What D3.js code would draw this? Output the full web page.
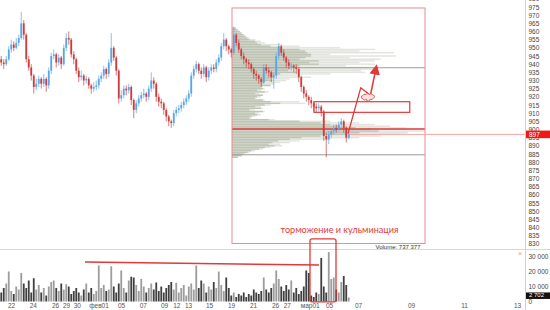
<!DOCTYPE html>
<html>
<head>
<meta charset="utf-8">
<script src="https://cdn.jsdelivr.net/npm/d3@7"></script>
<style>
  body { margin: 0; background: #fff; }
  svg { display: block; font-family: "Liberation Sans", Arial, sans-serif; }
</style>
</head>
<body>
<svg width="550" height="310"></svg>
<script>
// ---- dados ----
const firstOpen = 943;
const closes = [941,940,943,949,952,950,953,956,965,958, 943,938,933,926,928,931,928,931,927,936,
  945,946,941,944,940,950,956,955,946,943, 936,932,933,930,931,927,925,926,927,931,
  933,937,934,941,950,944,936,919,921,925, 924,926,918,912,916,919,921,922,920,925,
  930,928,920,917,916,912,908,905,904,910, 912,913,915,917,919,922,933,937,940,936,
  934,938,932,936,938,937,941,944,951,955, 951,949,947,958,953,949,945,943,941,940,
  937,934,933,931,929,938,936,935,932,933, 945,951,947,944,941,939,939,938,937,932,
  926,922,920,918,916,914,913,914,911,896, 894,897,899,901,900,903,905,901,895,897];
const highs = [945,943,945,951,955,954,956,958,972,967, 959,945,940,934,931,933,932,934,932,938,
  947,949,947,946,945,952,959,960,956,948, 944,938,936,934,933,932,928,929,930,933,
  935,939,938,943,959,951,945,937,924,927, 927,928,927,919,918,921,923,925,923,927,
  935,932,929,922,919,917,913,909,906,912, 914,915,917,919,921,924,935,939,942,941,
  938,940,939,938,940,940,943,946,953,959, 956,952,950,963,959,955,950,947,944,943,
  941,938,936,934,932,940,940,938,936,935, 947,953,952,949,945,943,941,940,940,938,
  933,927,924,921,920,917,916,916,915,912, 898,899,901,903,903,905,907,906,902,898];
const lows = [939,937,939,942,947,948,949,951,955,955, 941,936,930,922,924,926,925,926,923,925,
  934,943,938,939,937,939,948,952,944,940, 934,929,930,927,928,925,922,923,924,925,
  929,931,931,932,939,942,933,916,917,919, 921,922,915,907,910,914,917,919,917,918,
  923,925,917,914,913,909,905,902,901,902, 908,910,911,913,915,917,920,931,935,934,
  931,932,929,930,934,935,935,939,942,949, 948,946,944,946,951,947,943,940,938,937,
  935,931,930,928,926,928,934,932,929,925, 931,943,945,942,938,937,936,935,934,929,
  923,919,917,915,913,911,910,911,908,893, 883,891,895,897,898,899,901,898,892,894];
const volumes = [6,9,12,20,7,5,10,8,19,12, 9,14,6,15.5,8,11,6,9,4,10,
  13,14,9,7,12,8,11.5,10,5,7, 9,6,4,8,12,6,9,5,7,24,
  9,11,7,8,23.5,10,6,12,20.7,9, 6,14,16.5,16,11,7,15,10,6,9,
  12,8,12.7,7,10,6,9,11,13,8, 12.5,6,9,11,4,10,12,8,24,9,
  14,12,6,10,8,13,9,20,11,7, 16,9,4,6,3,5,4,6,3,5,
  4,8,6,5,7,16,8,6,9,12, 20.7,15,10,7,11,8,14,6,9,5,
  7,10,20.7,19,4,3,6,5,29,10, 6,33,15,16,8,6,13,17,11,2.702];

// perfil de volume (preço, volume total, parte escura)
const profilePrices = [962,961,960,959,958,957,956,955,954,953,952,951,950,949,948,947,946,945,944,943,
  942,941,940,939,938,937,936,935,934,933,932,931,930,929,928,927,926,925,924,923,
  922,921,920,919,918,917,916,915,914,913,912,911,910,909,908,907,906,905,904,903,
  902,901,900,899,898,897,896,895,894,893,892,891,890,889,888,887,886,885,884,883];
const profileTotal = [2,3,4,5,6,7,9,12,15,17,25,35,56,74,66,84,51,85,61,77,
  74,66,74,59,71,74,67,69,51,35,41,30,28,25,22,20,16,17,15,19,
  14,16,15,12,17,35,38,20,15,16,12,17,14,15,12,10,22,51,66,74,
  82,90,97,100,91,87,77,66,51,35,30,25,26,20,16,12,9,7,5,3];
const profileDark = [2,3,4,5,6,7,8,9,12,13,15,20,25,35,38,39,41,41,38,35,
  45,40,45,35,33,30,29,33,25,22,22,20,21,17,16,20,15,16,13,17,
  12,16,13,12,16,20,25,17,12,15,9,16,12,13,10,9,19,35,46,51,
  56,64,72,76,66,59,46,36,30,24,21,19,22,17,14,10,8,6,5,3];
const volumeProfileTotal = "737 377";
const pocPrice = 900.3;
const vahPrice = 937.8;
const valPrice = 884.5;
const lastPrice = 897;
const lastVolume = "2 702";

const priceTicks = [830,835,840,845,850,855,860,865,870,875,880,885,890,895,900,905,910,915,920,925,930,935,940,945,950,955,960,965,970,975,980];
const volumeTicks = [0,10,20,30];
const dateLabels = ["22","24","26","29","30","фев01","05","07","09","12","13","15","19","21","26","27","мар01","05","07","09","11","13"];
const datePos = [3.9,12.6,21.5,25.9,30.2,38.9,47.9,56.6,65.1,70,74.7,83.1,91.9,100.7,109.5,114.2,123.4,131.1,142.7,163.9,185.1,206.3];

// anotações (índice da barra, preço / volume)
const boxProfile = {i0: 92.3, i1: 169.5, p0: 830.2, p1: 974.4};
const boxTarget = {i0: 125.1, i1: 163.4, p0: 910.5, p1: 917};
const arrowPath = [[138.7, 897.5], [143.8, 925.5], [147.2, 921.5]];
const arrowHead = [[147.6, 920.5], [149.9, 937.5]];
const cloudAt = [147, 919.8];
const volumeLine = [[33.5, 26.3], [127.1, 24.3]];
const volumeBox = {i0: 123.5, i1: 133.9, v0: -0.2, v1: 41.7};
const noteText = "торможение и кульминация";
const notePos = [135.3, 838.7];

// ---- desenho ----
const svg = d3.select("svg");
const largura = 550;
const eixo_x = 525;

const x = d3.scaleLinear().domain([-0.5, 209.5]).range([0, eixo_x]);
const y = d3.scaleLinear().domain([830, 975]).range([243.8, 7]);
const yv = d3.scaleLinear().domain([0, 30]).range([301.5, 256.5]);
const xp = d3.scaleLinear().domain([0, 100]).range([x(boxProfile.i0), x(boxProfile.i1)]);

const cor_alta = "#5ba4e6";
const cor_baixa = "#cf3b3b";
const vermelho = "#e03a3a";

const candles = closes.map((c, i) => ({
  i: i,
  open: i === 0 ? firstOpen : closes[i - 1],
  close: c,
  high: highs[i],
  low: lows[i],
  vol: volumes[i]
}));

// separadores
svg.append("line").attr("x1", 0).attr("x2", largura).attr("y1", 249.5).attr("y2", 249.5)
  .attr("stroke", "#d8d8d8");
svg.append("line").attr("x1", eixo_x + 0.5).attr("x2", eixo_x + 0.5).attr("y1", 0).attr("y2", 310)
  .attr("stroke", "#cfcfcf");

// perfil
const rowH = Math.abs(y(1) - y(0));
const perfil = profilePrices.map((p, k) => ({p: p, total: profileTotal[k], dark: profileDark[k]}));
svg.append("g").selectAll("rect").data(perfil).join("rect")
  .attr("x", xp(0)).attr("y", d => y(d.p) - rowH / 2 + 0.1)
  .attr("width", d => xp(d.total) - xp(0)).attr("height", rowH - 0.2)
  .attr("fill", "#e2e4de");
svg.append("g").selectAll("rect").data(perfil).join("rect")
  .attr("x", xp(0)).attr("y", d => y(d.p) - rowH / 2 + 0.1)
  .attr("width", d => xp(d.dark) - xp(0)).attr("height", rowH - 0.2)
  .attr("fill", "#bfc5b5");

[vahPrice, valPrice].forEach(p => {
  svg.append("line").attr("x1", xp(0)).attr("x2", xp(100)).attr("y1", y(p)).attr("y2", y(p))
    .attr("stroke", "#9a9a9a").attr("stroke-width", 1);
});
svg.append("line").attr("x1", xp(0)).attr("x2", xp(100)).attr("y1", y(pocPrice)).attr("y2", y(pocPrice))
  .attr("stroke", vermelho).attr("stroke-width", 1.3);

svg.append("rect")
  .attr("x", x(boxProfile.i0)).attr("y", y(boxProfile.p1))
  .attr("width", x(boxProfile.i1) - x(boxProfile.i0)).attr("height", y(boxProfile.p0) - y(boxProfile.p1))
  .attr("fill", "none").attr("stroke", "#ec8a8a").attr("stroke-width", 1);

// linha do último preço
svg.append("line").attr("x1", x(candles.length - 1)).attr("x2", eixo_x)
  .attr("y1", y(lastPrice)).attr("y2", y(lastPrice))
  .attr("stroke", "#f5a5a5").attr("stroke-width", 1);

// candles
const gc = svg.append("g");
gc.selectAll("line").data(candles).join("line")
  .attr("x1", d => x(d.i)).attr("x2", d => x(d.i))
  .attr("y1", d => y(d.high)).attr("y2", d => y(d.low))
  .attr("stroke", d => d.close >= d.open ? cor_alta : cor_baixa)
  .attr("stroke-width", 0.8).attr("opacity", 0.85);
gc.selectAll("rect").data(candles).join("rect")
  .attr("x", d => x(d.i) - 0.9).attr("width", 1.8)
  .attr("y", d => y(Math.max(d.open, d.close)))
  .attr("height", d => Math.max(0.8, Math.abs(y(d.open) - y(d.close))))
  .attr("fill", d => d.close >= d.open ? cor_alta : cor_baixa);

// anotações no gráfico de preço
svg.append("rect")
  .attr("x", x(boxTarget.i0)).attr("y", y(boxTarget.p1))
  .attr("width", x(boxTarget.i1) - x(boxTarget.i0)).attr("height", y(boxTarget.p0) - y(boxTarget.p1))
  .attr("fill", "none").attr("stroke", vermelho).attr("stroke-width", 1.2);

const linha = d3.line().x(d => x(d[0])).y(d => y(d[1]));
svg.append("path").attr("d", linha(arrowPath))
  .attr("fill", "none").attr("stroke", vermelho).attr("stroke-width", 1.3);

svg.append("defs").append("marker")
  .attr("id", "ponta").attr("viewBox", "0 0 10 10").attr("refX", 6).attr("refY", 5)
  .attr("markerWidth", 7).attr("markerHeight", 7).attr("orient", "auto-start-reverse")
  .append("path").attr("d", "M0,0L10,5L0,10z").attr("fill", vermelho);
svg.append("path").attr("d", linha(arrowHead))
  .attr("fill", "none").attr("stroke", vermelho).attr("stroke-width", 1.5)
  .attr("marker-end", "url(#ponta)");

// nuvenzinha
const cx = x(cloudAt[0]), cy = y(cloudAt[1]);
svg.append("path")
  .attr("d", `M${cx - 6},${cy + 1.5} a1.5,1.5 0 0 1 0,-3 a2,2 0 0 1 3,-1 a2,2 0 0 1 3.5,0 a2,2 0 0 1 3.5,0.5 a1.5,1.5 0 0 1 0.5,3 a2,2 0 0 1 -3,1 a2,2 0 0 1 -4,0 a2,2 0 0 1 -3.5,-0.5z`)
  .attr("fill", "#fbe3e3").attr("stroke", vermelho).attr("stroke-width", 0.8);

// volume
svg.append("g").selectAll("rect").data(candles).join("rect")
  .attr("x", d => x(d.i) - 0.9).attr("width", 1.8)
  .attr("y", d => yv(d.vol)).attr("height", d => yv(0) - yv(d.vol))
  .attr("fill", d => d.close >= d.open ? "#9c9c9c" : "#404040");

svg.append("line")
  .attr("x1", x(volumeLine[0][0])).attr("y1", yv(volumeLine[0][1]))
  .attr("x2", x(volumeLine[1][0])).attr("y2", yv(volumeLine[1][1]))
  .attr("stroke", vermelho).attr("stroke-width", 1.4);

svg.append("rect")
  .attr("x", x(volumeBox.i0)).attr("y", yv(volumeBox.v1))
  .attr("width", x(volumeBox.i1) - x(volumeBox.i0)).attr("height", yv(volumeBox.v0) - yv(volumeBox.v1))
  .attr("rx", 2).attr("fill", "none").attr("stroke", vermelho).attr("stroke-width", 1.3);

svg.append("text").attr("x", x(notePos[0])).attr("y", y(notePos[1]) + 3)
  .attr("text-anchor", "middle").attr("fill", vermelho)
  .style("font-family", "Lato, 'Open Sans', sans-serif").style("font-size", "10px")
  .attr("textLength", 118).attr("lengthAdjust", "spacingAndGlyphs")
  .text(noteText);

svg.append("text").attr("x", 398).attr("y", 248.5)
  .attr("text-anchor", "middle").attr("fill", "#333").style("font-size", "6px")
  .text("Volume: " + volumeProfileTotal);

svg.append("text").attr("x", 520).attr("y", 256).attr("text-anchor", "middle")
  .attr("fill", "#b0b0b0").style("font-size", "7px").text("×");

// eixos
const eixoPreco = d3.axisRight(y).tickValues(priceTicks).tickSize(0).tickPadding(3.5);
const gy = svg.append("g").attr("transform", `translate(${eixo_x},0)`).call(eixoPreco);
gy.select(".domain").remove();
gy.selectAll("text").style("font-size", "6.5px").attr("fill", "#444").attr("font-family", null);

const eixoVol = d3.axisRight(yv).tickValues(volumeTicks).tickSize(0).tickPadding(3.5)
  .tickFormat(d => d === 0 ? "0" : d + " 000");
const gv = svg.append("g").attr("transform", `translate(${eixo_x},0)`).call(eixoVol);
gv.select(".domain").remove();
gv.selectAll("text").style("font-size", "6.5px").attr("fill", "#444").attr("font-family", null);

const eixoData = d3.axisBottom(x).tickValues(datePos).tickSize(0).tickPadding(0)
  .tickFormat((d, k) => dateLabels[k]);
const gx = svg.append("g").attr("transform", "translate(0,303)").call(eixoData);
gx.select(".domain").remove();
gx.selectAll("text").style("font-size", "6.5px").attr("fill", "#555").attr("font-family", null);

// rótulos do último valor
svg.append("rect").attr("x", eixo_x + 1).attr("y", y(lastPrice) - 3.8).attr("width", 24).attr("height", 7.6)
  .attr("fill", "#f01818");
svg.append("text").attr("x", eixo_x + 4).attr("y", y(lastPrice) + 2.4)
  .attr("fill", "#fff").style("font-size", "6.5px").text(lastPrice);

svg.append("rect").attr("x", eixo_x + 1).attr("y", yv(2.702) - 5).attr("width", 24).attr("height", 6.5)
  .attr("fill", "#111");
svg.append("text").attr("x", eixo_x + 4).attr("y", yv(2.702))
  .attr("fill", "#fff").style("font-size", "6px").text(lastVolume);
</script>
</body>
</html>
